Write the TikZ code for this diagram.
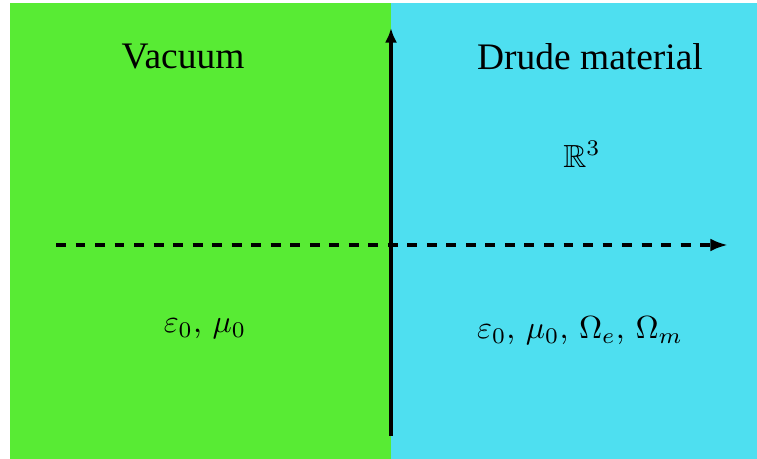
\documentclass[tikz,border=0pt]{standalone}
\usepackage{amsmath,amssymb}
\usepackage{fontspec}
\usepackage{tikz}
\usetikzlibrary{arrows.meta,positioning}
\newfontfamily\labelfont{Liberation Serif}
\definecolor{vacgreen}{RGB}{88,235,52}
\definecolor{drudecyan}{RGB}{78,223,240}
\tikzset{
  region/.style={draw=none},
  title/.style={font=\labelfont\fontsize{11.7}{14}\selectfont, inner sep=0pt},
  param/.style={font=\normalsize, inner sep=0pt},
  axisarrow/.style={-{Latex[length=4.6pt,width=3.8pt]}, line width=1.1pt},
  dashedaxis/.style={-{Latex[length=5.5pt,width=4pt]}, line width=1.1pt, dash pattern=on 3.1pt off 3pt}
}

\begin{document}
\begin{tikzpicture}[x=0.3125pt, y=-0.3125pt]
  \useasboundingbox (0,0) rectangle (757,459);
  \fill[white] (0,0) rectangle (757,459);
  \fill[region, vacgreen] (10,3) rectangle (391,459);
  \fill[region, drudecyan] (391,3) rectangle (757,459);

  \coordinate (ybot) at (391,436);
  \coordinate (ytop) at (391,28);
  \coordinate (xleft) at (56,245);
  \coordinate (xright) at (728,245);

  \node[title] (vac) at (183,57) {Vacuum};
  \node[title] (drude) at (590,57) {Drude material};
  \node[param] (space) at (582,154) {$\mathbb{R}^3$};
  \node[param] (vacpar) at (205,329) {$\varepsilon_0$, $\mu_0$};
  \node[param] (drudepar) at (580,331) {$\varepsilon_0$, $\mu_0$, $\Omega_e$, $\Omega_m$};

  \draw[dashedaxis] (xleft) -- (xright);
  \draw[axisarrow] (ybot) -- (ytop);
\end{tikzpicture}
\end{document}
